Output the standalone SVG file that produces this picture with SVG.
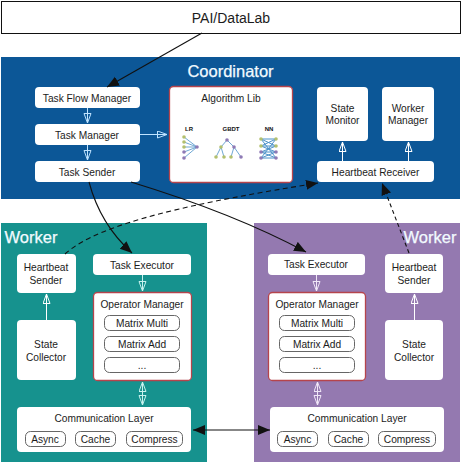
<svg xmlns="http://www.w3.org/2000/svg" width="462" height="462" viewBox="0 0 462 462">
<style>
text{font-family:"Liberation Sans",Arial,sans-serif;font-size:10.2px;fill:#1c1c1c;text-anchor:middle}
.n{fill:#fff}
.p{fill:#fff;stroke:#555;stroke-width:.9}
.r{fill:#fff;stroke:#b5444c;stroke-width:1.3}
.t{font-size:16.5px;fill:#f2fbff;stroke:#f2fbff;stroke-width:.25}
.s{font-size:6px;font-weight:bold;fill:#111}
.a{fill:none;stroke:#111;stroke-width:1.1}
.d{stroke-dasharray:5 3.5}
.f{stroke-dasharray:4 3}
.w{fill:none;stroke:#fff;stroke-width:1}
.wb{fill:none;stroke:#bfe3ff;stroke-width:1}
.wt{fill:none;stroke:#c8f2ee;stroke-width:1}
.wp{fill:none;stroke:#f0e6f7;stroke-width:1}
.ic{fill:none;stroke:#4a90c8;stroke-width:.8}
</style>
<defs>
<marker id="b" markerUnits="userSpaceOnUse" markerWidth="14" markerHeight="12" refX="12" refY="5" orient="auto-start-reverse"><path d="M0 0L12 5L0 10Z" fill="#111"/></marker>
<marker id="o" markerUnits="userSpaceOnUse" markerWidth="12" markerHeight="10" refX="10" refY="4" orient="auto"><path d="M.5 .5L10 4L.5 7.500Z" fill="none" stroke="#fff" stroke-width="1"/></marker>
<marker id="ob" markerUnits="userSpaceOnUse" markerWidth="12" markerHeight="10" refX="10" refY="4" orient="auto"><path d="M.5 .5L10 4L.5 7.500Z" fill="none" stroke="#bfe3ff" stroke-width="1"/></marker>
<marker id="ot" markerUnits="userSpaceOnUse" markerWidth="12" markerHeight="10" refX="10" refY="4" orient="auto-start-reverse"><path d="M.5 .5L10 4L.5 7.500Z" fill="none" stroke="#c8f2ee" stroke-width="1"/></marker>
<marker id="op" markerUnits="userSpaceOnUse" markerWidth="12" markerHeight="10" refX="10" refY="4" orient="auto-start-reverse"><path d="M.5 .5L10 4L.5 7.500Z" fill="none" stroke="#f0e6f7" stroke-width="1"/></marker>
</defs>

<rect id="coordinator-bg" x="1" y="57" width="459" height="142" fill="#0c5797"/>
<rect id="worker-left-bg" x="1" y="223" width="206" height="239" fill="#16928e"/>
<rect id="worker-right-bg" x="254" y="223" width="206" height="239" fill="#9479b0"/>

<g id="pai"><rect x="1.500" y="1.500" width="459" height="32" fill="#fff" stroke="#111" stroke-width="1"/><text x="231" y="22.500" style="font-size:14px">PAI/DataLab</text></g>
<text id="coordinator-title" class="t" x="230.500" y="77">Coordinator</text>
<text id="worker-left-title" class="t" x="31" y="243">Worker</text>
<text id="worker-right-title" class="t" x="430" y="243">Worker</text>

<g id="task-flow-manager"><rect class="n" x="35" y="87" width="105" height="21" rx="4"/><text x="87" y="101.500">Task Flow Manager</text></g>
<g id="task-manager"><rect class="n" x="35" y="124" width="105" height="21" rx="4"/><text x="87" y="138.500">Task Manager</text></g>
<g id="task-sender"><rect class="n" x="35" y="161" width="105" height="21" rx="4"/><text x="87" y="175.500">Task Sender</text></g>
<g id="algorithm-lib"><rect class="r" x="169.500" y="86.500" width="123" height="96" rx="4"/><text x="231" y="102">Algorithm Lib</text>
<text class="s" x="189" y="131">LR</text><text class="s" x="231" y="131">GBDT</text><text class="s" x="269" y="131">NN</text>
<g class="ic"><path d="M184 137L197 147L184 142M184 147H197M184 152L197 147L184 158"/><path d="M227 140L221 147L216 157M221 147L224 157M227 140L234 147L231 157M234 147L241 157"/><path d="M261 139L276 146L261 152L276 158L261 158L276 152L261 146L276 139ZM261 139L276 158M276 139L261 158M261 146L276 146M261 152L276 152" stroke-width="1"/></g>
<g fill="#8f7ab5"><circle cx="197" cy="147" r="1.800"/><circle cx="184" cy="152" r="1.800"/><circle cx="184" cy="158" r="1.800"/><circle cx="227" cy="140" r="1.800"/><circle cx="234" cy="147" r="1.800"/><circle cx="241" cy="157" r="1.800"/><circle cx="261" cy="152" r="1.800"/><circle cx="261" cy="158" r="1.800"/><circle cx="276" cy="152" r="1.800"/><circle cx="276" cy="158" r="1.800"/></g>
<g fill="#b3c06e"><circle cx="184" cy="137" r="1.800"/><circle cx="184" cy="142" r="1.800"/><circle cx="184" cy="147" r="1.800"/><circle cx="221" cy="147" r="1.800"/><circle cx="216" cy="157" r="1.800"/><circle cx="224" cy="157" r="1.800"/><circle cx="231" cy="157" r="1.800"/><circle cx="261" cy="139" r="1.800"/><circle cx="261" cy="146" r="1.800"/><circle cx="276" cy="139" r="1.800"/><circle cx="276" cy="146" r="1.800"/></g>
</g>
<g id="state-monitor"><rect class="n" x="317" y="87" width="51" height="54" rx="4"/><text x="342.500" y="112">State</text><text x="342.500" y="124">Monitor</text></g>
<g id="worker-manager"><rect class="n" x="382" y="87" width="52" height="54" rx="4"/><text x="408" y="112">Worker</text><text x="408" y="124">Manager</text></g>
<g id="heartbeat-receiver"><rect class="n" x="317" y="161" width="117" height="21" rx="4"/><text x="375.500" y="175.500">Heartbeat Receiver</text></g>

<g id="left-heartbeat-sender"><rect class="n" x="17" y="254" width="59" height="39" rx="4"/><text x="46" y="271">Heartbeat</text><text x="46" y="284">Sender</text></g>
<g id="left-state-collector"><rect class="n" x="17" y="320" width="59" height="60" rx="4"/><text x="46" y="348">State</text><text x="46" y="361">Collector</text></g>
<g id="left-task-executor"><rect class="n" x="93" y="254" width="98" height="21" rx="4"/><text x="142" y="269">Task Executor</text></g>
<g id="left-operator-manager"><rect class="r" x="93.500" y="292.500" width="98" height="88" rx="4"/><text x="142" y="308">Operator Manager</text>
<rect class="p" x="104.500" y="315.500" width="75" height="15" rx="5"/><text x="142" y="327">Matrix Multi</text>
<rect class="p" x="104.500" y="336.500" width="75" height="15" rx="5"/><text x="142" y="348">Matrix Add</text>
<rect class="p" x="104.500" y="357.500" width="75" height="15" rx="5"/><text x="142" y="369">...</text></g>
<g id="left-communication-layer"><rect class="n" x="17" y="407" width="174" height="45" rx="4"/><text x="104" y="422">Communication Layer</text>
<rect class="p" x="25.500" y="431.500" width="40" height="15" rx="5"/><text x="45" y="443">Async</text>
<rect class="p" x="75.500" y="431.500" width="40" height="15" rx="5"/><text x="95.500" y="443">Cache</text>
<rect class="p" x="126.500" y="431.500" width="56" height="15" rx="5"/><text x="154.500" y="443">Compress</text></g>

<g id="right-task-executor"><rect class="n" x="268" y="254" width="97" height="21" rx="4"/><text x="316" y="268">Task Executor</text></g>
<g id="right-operator-manager"><rect class="r" x="268.500" y="292.500" width="97" height="88" rx="4"/><text x="317" y="308">Operator Manager</text>
<rect class="p" x="279.500" y="315.500" width="75" height="15" rx="5"/><text x="317" y="327">Matrix Multi</text>
<rect class="p" x="279.500" y="336.500" width="75" height="15" rx="5"/><text x="317" y="348">Matrix Add</text>
<rect class="p" x="279.500" y="357.500" width="75" height="15" rx="5"/><text x="317" y="369">...</text></g>
<g id="right-heartbeat-sender"><rect class="n" x="385" y="254" width="58" height="39" rx="4"/><text x="414" y="271">Heartbeat</text><text x="414" y="284">Sender</text></g>
<g id="right-state-collector"><rect class="n" x="385" y="320" width="58" height="60" rx="4"/><text x="414" y="348">State</text><text x="414" y="361">Collector</text></g>
<g id="right-communication-layer"><rect class="n" x="270" y="407" width="174" height="45" rx="4"/><text x="357" y="422">Communication Layer</text>
<rect class="p" x="277.500" y="431.500" width="40" height="15" rx="5"/><text x="297.500" y="443">Async</text>
<rect class="p" x="328.500" y="431.500" width="40" height="15" rx="5"/><text x="348.500" y="443">Cache</text>
<rect class="p" x="378.500" y="431.500" width="57" height="15" rx="5"/><text x="407" y="443">Compress</text></g>

<g id="connectors">
<path class="a" d="M202 33L107 87" marker-end="url(#b)"/>
<path class="a" d="M89 182C97 212 112 235 132 253" marker-end="url(#b)"/>
<path class="a" d="M131 182C190 200 250 222 306 252" marker-end="url(#b)"/>
<path class="a d" d="M65 254C100 222 200 202 318 183" marker-end="url(#b)"/>
<path class="a f" d="M409 253L382 183" marker-end="url(#b)"/>
<path class="a" d="M193 430H270" marker-start="url(#b)" marker-end="url(#b)"/>
<path class="wb" d="M87.500 108V123" marker-end="url(#ob)"/>
<path class="wb" d="M87.500 145V160" marker-end="url(#ob)"/>
<path class="wb" d="M140 134.500H167" marker-end="url(#ob)"/>
<path class="w" d="M342.500 161V142" marker-end="url(#o)"/>
<path class="w" d="M408.500 161V142" marker-end="url(#o)"/>
<path class="w" d="M46.500 320V294" marker-end="url(#o)"/>
<path class="w" d="M414.500 320V294" marker-end="url(#o)"/>
<path class="wt" d="M142.500 275V291" marker-end="url(#ot)"/>
<path class="wt" d="M142.500 382V405" marker-start="url(#ot)" marker-end="url(#ot)"/>
<path class="wp" d="M316.500 275V291" marker-end="url(#op)"/>
<path class="wp" d="M317.500 382V405" marker-start="url(#op)" marker-end="url(#op)"/>
</g>
</svg>
